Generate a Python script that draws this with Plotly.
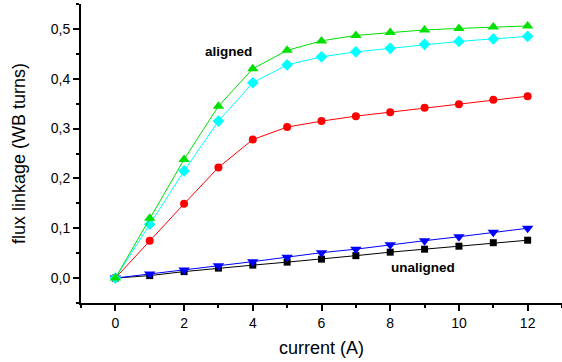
import plotly.graph_objects as go

current = list(range(0, 13))
green_aligned = [0, 0.120, 0.238, 0.345, 0.420, 0.457, 0.476, 0.487, 0.493, 0.498, 0.501, 0.504, 0.506]
cyan_aligned = [0, 0.108, 0.215, 0.315, 0.392, 0.428, 0.444, 0.454, 0.461, 0.469, 0.475, 0.480, 0.485]
red_mid = [0, 0.075, 0.149, 0.222, 0.278, 0.303, 0.315, 0.325, 0.333, 0.342, 0.349, 0.358, 0.365]
blue_unaligned = [0, 0.008, 0.016, 0.025, 0.033, 0.042, 0.051, 0.058, 0.067, 0.075, 0.083, 0.092, 0.100]
black_unaligned = [0, 0.005, 0.013, 0.020, 0.026, 0.032, 0.038, 0.045, 0.052, 0.058, 0.064, 0.071, 0.076]

series = [
    (black_unaligned, "#000000", "square", 7),
    (blue_unaligned, "#0000ff", "triangle-down", 10),
    (red_mid, "#ff0000", "circle", 8),
    (cyan_aligned, "#00ffff", "diamond", 9),
    (green_aligned, "#00e000", "triangle-up", 10),
]

fig = go.Figure()
for ys, col, sym, sz in series:
    fig.add_trace(go.Scatter(
        x=current, y=ys, mode="lines+markers",
        line=dict(color=col, width=1),
        marker=dict(symbol=sym, size=sz, color=col, line=dict(width=0)),
        showlegend=False,
    ))

fig.add_annotation(x=3.3, y=0.455, text="<b>aligned</b>", showarrow=False,
                   font=dict(family="Arial, Liberation Sans", size=13.5, color="#000"))
fig.add_annotation(x=8.95, y=0.021, text="<b>unaligned</b>", showarrow=False,
                   font=dict(family="Arial, Liberation Sans", size=13.5, color="#000"))

fig.update_layout(
    width=562, height=362,
    margin=dict(l=81, r=0, t=4, b=59),
    paper_bgcolor="white", plot_bgcolor="white",
    separators=", ",
    font=dict(family="Arial, Liberation Sans", size=14, color="#000"),
    xaxis=dict(
        range=[-1, 13], tickmode="linear", tick0=0, dtick=2,
        showgrid=False, zeroline=False, showline=True, linecolor="#000", linewidth=2,
        ticks="outside", ticklen=6, tickwidth=1.5, tickcolor="#000",
        minor=dict(dtick=1, tick0=0, ticks="outside", ticklen=3, tickwidth=1.5, tickcolor="#000"),
        title=dict(text="current (A)", font=dict(size=18), standoff=12),
        tickfont=dict(size=14),
    ),
    yaxis=dict(
        range=[-0.05, 0.55], tickmode="linear", tick0=0, dtick=0.1, tickformat=".1f",
        showgrid=False, zeroline=False, showline=True, linecolor="#000", linewidth=2,
        ticks="outside", ticklen=6, tickwidth=1.5, tickcolor="#000",
        minor=dict(dtick=0.05, tick0=0, ticks="outside", ticklen=3, tickwidth=1.5, tickcolor="#000"),
        title=dict(text="flux linkage (WB turns)", font=dict(size=18), standoff=20),
        tickfont=dict(size=14),
    ),
)

fig.write_html("out.html")
